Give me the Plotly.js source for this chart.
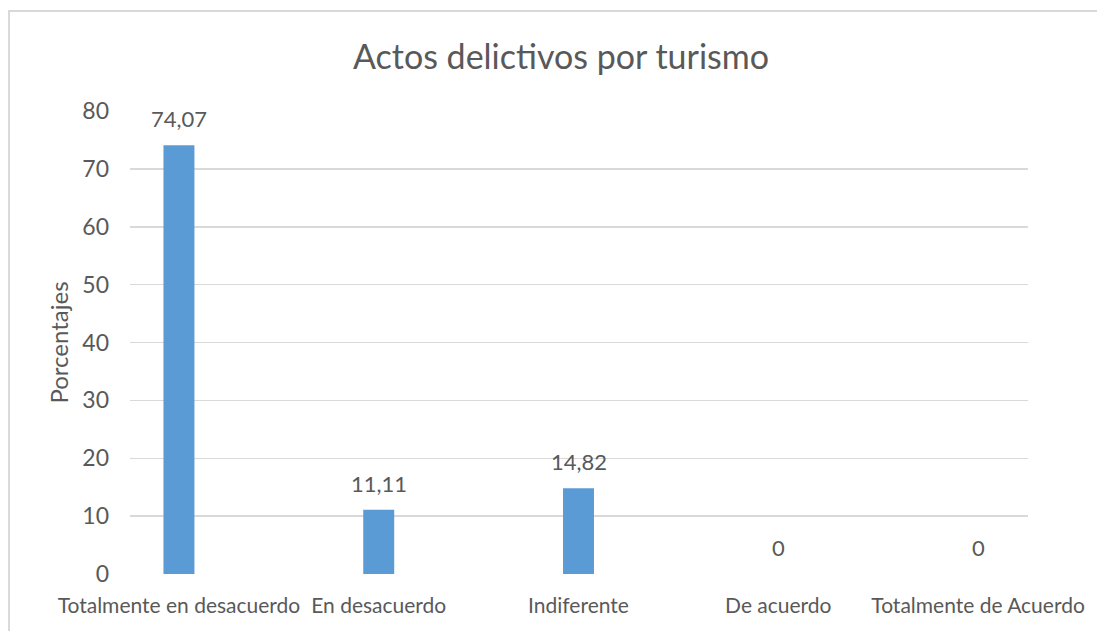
<!DOCTYPE html>
<html>
<head>
<meta charset="utf-8">
<script src="https://cdn.plot.ly/plotly-3.0.1.min.js"></script>
<style>
html,body{margin:0;padding:0;background:#fff;overflow:hidden;}
#chart{width:1097px;height:631px;}
</style>
</head>
<body>
<div id="chart"></div>
<script>
const categories = ["Totalmente en desacuerdo", "En desacuerdo", "Indiferente", "De acuerdo", "Totalmente de Acuerdo"];
const values = [74.07, 11.11, 14.82, 0, 0];
const valueLabels = ["74,07", "11,11", "14,82", "0", "0"];
const yTicks = [0, 10, 20, 30, 40, 50, 60, 70, 80];

const idx = categories.map((c, i) => i);
const font = "Lato, 'Open Sans', sans-serif";
const grey = "#595959";

const trace = {
  type: "bar",
  x: idx,
  y: values,
  width: 0.155,
  marker: {color: "#5b9bd5"},
  hoverinfo: "skip"
};

const annotations = idx.map((i) => ({
  x: i, y: values[i], xref: "x", yref: "y",
  text: valueLabels[i], showarrow: false,
  yanchor: "bottom", yshift: 11,
  font: {family: font, size: 22, color: grey}
}));

const layout = {
  width: 1097, height: 631,
  margin: {l: 130, r: 69, t: 111, b: 57},
  paper_bgcolor: "#fff", plot_bgcolor: "#fff",
  showlegend: false,
  title: {
    text: "Actos delictivos por turismo",
    x: 0.48, xref: "paper", xanchor: "center",
    y: 0.91, yref: "container", yanchor: "middle",
    font: {family: font, size: 34, color: grey}
  },
  xaxis: {
    range: [-0.245, 4.25],
    tickvals: idx, ticktext: categories,
    tickangle: 0,
    showgrid: false, zeroline: false, showline: false,
    ticks: "", tickfont: {family: font, size: 21, color: grey},
    ticklabelstandoff: 17,
    fixedrange: true
  },
  yaxis: {
    range: [0, 80],
    tickvals: yTicks,
    showgrid: true, gridcolor: "#d9d9d9", gridwidth: 1.5,
    zeroline: false, showline: false, ticks: "",
    tickfont: {family: font, size: 23, color: grey},
    ticklabelstandoff: 20,
    title: {text: "Porcentajes", font: {family: font, size: 24, color: grey}, standoff: 6},
    fixedrange: true
  },
  shapes: [{
    type: "rect", xref: "paper", yref: "paper",
    x0: -0.1347, x1: 1.2, y0: -0.2, y1: 1.2160,
    line: {color: "#d9d9d9", width: 2}, fillcolor: "rgba(0,0,0,0)"
  }],
  annotations: annotations
};

Plotly.newPlot("chart", [trace], layout, {displayModeBar: false, staticPlot: true});
</script>
</body>
</html>
